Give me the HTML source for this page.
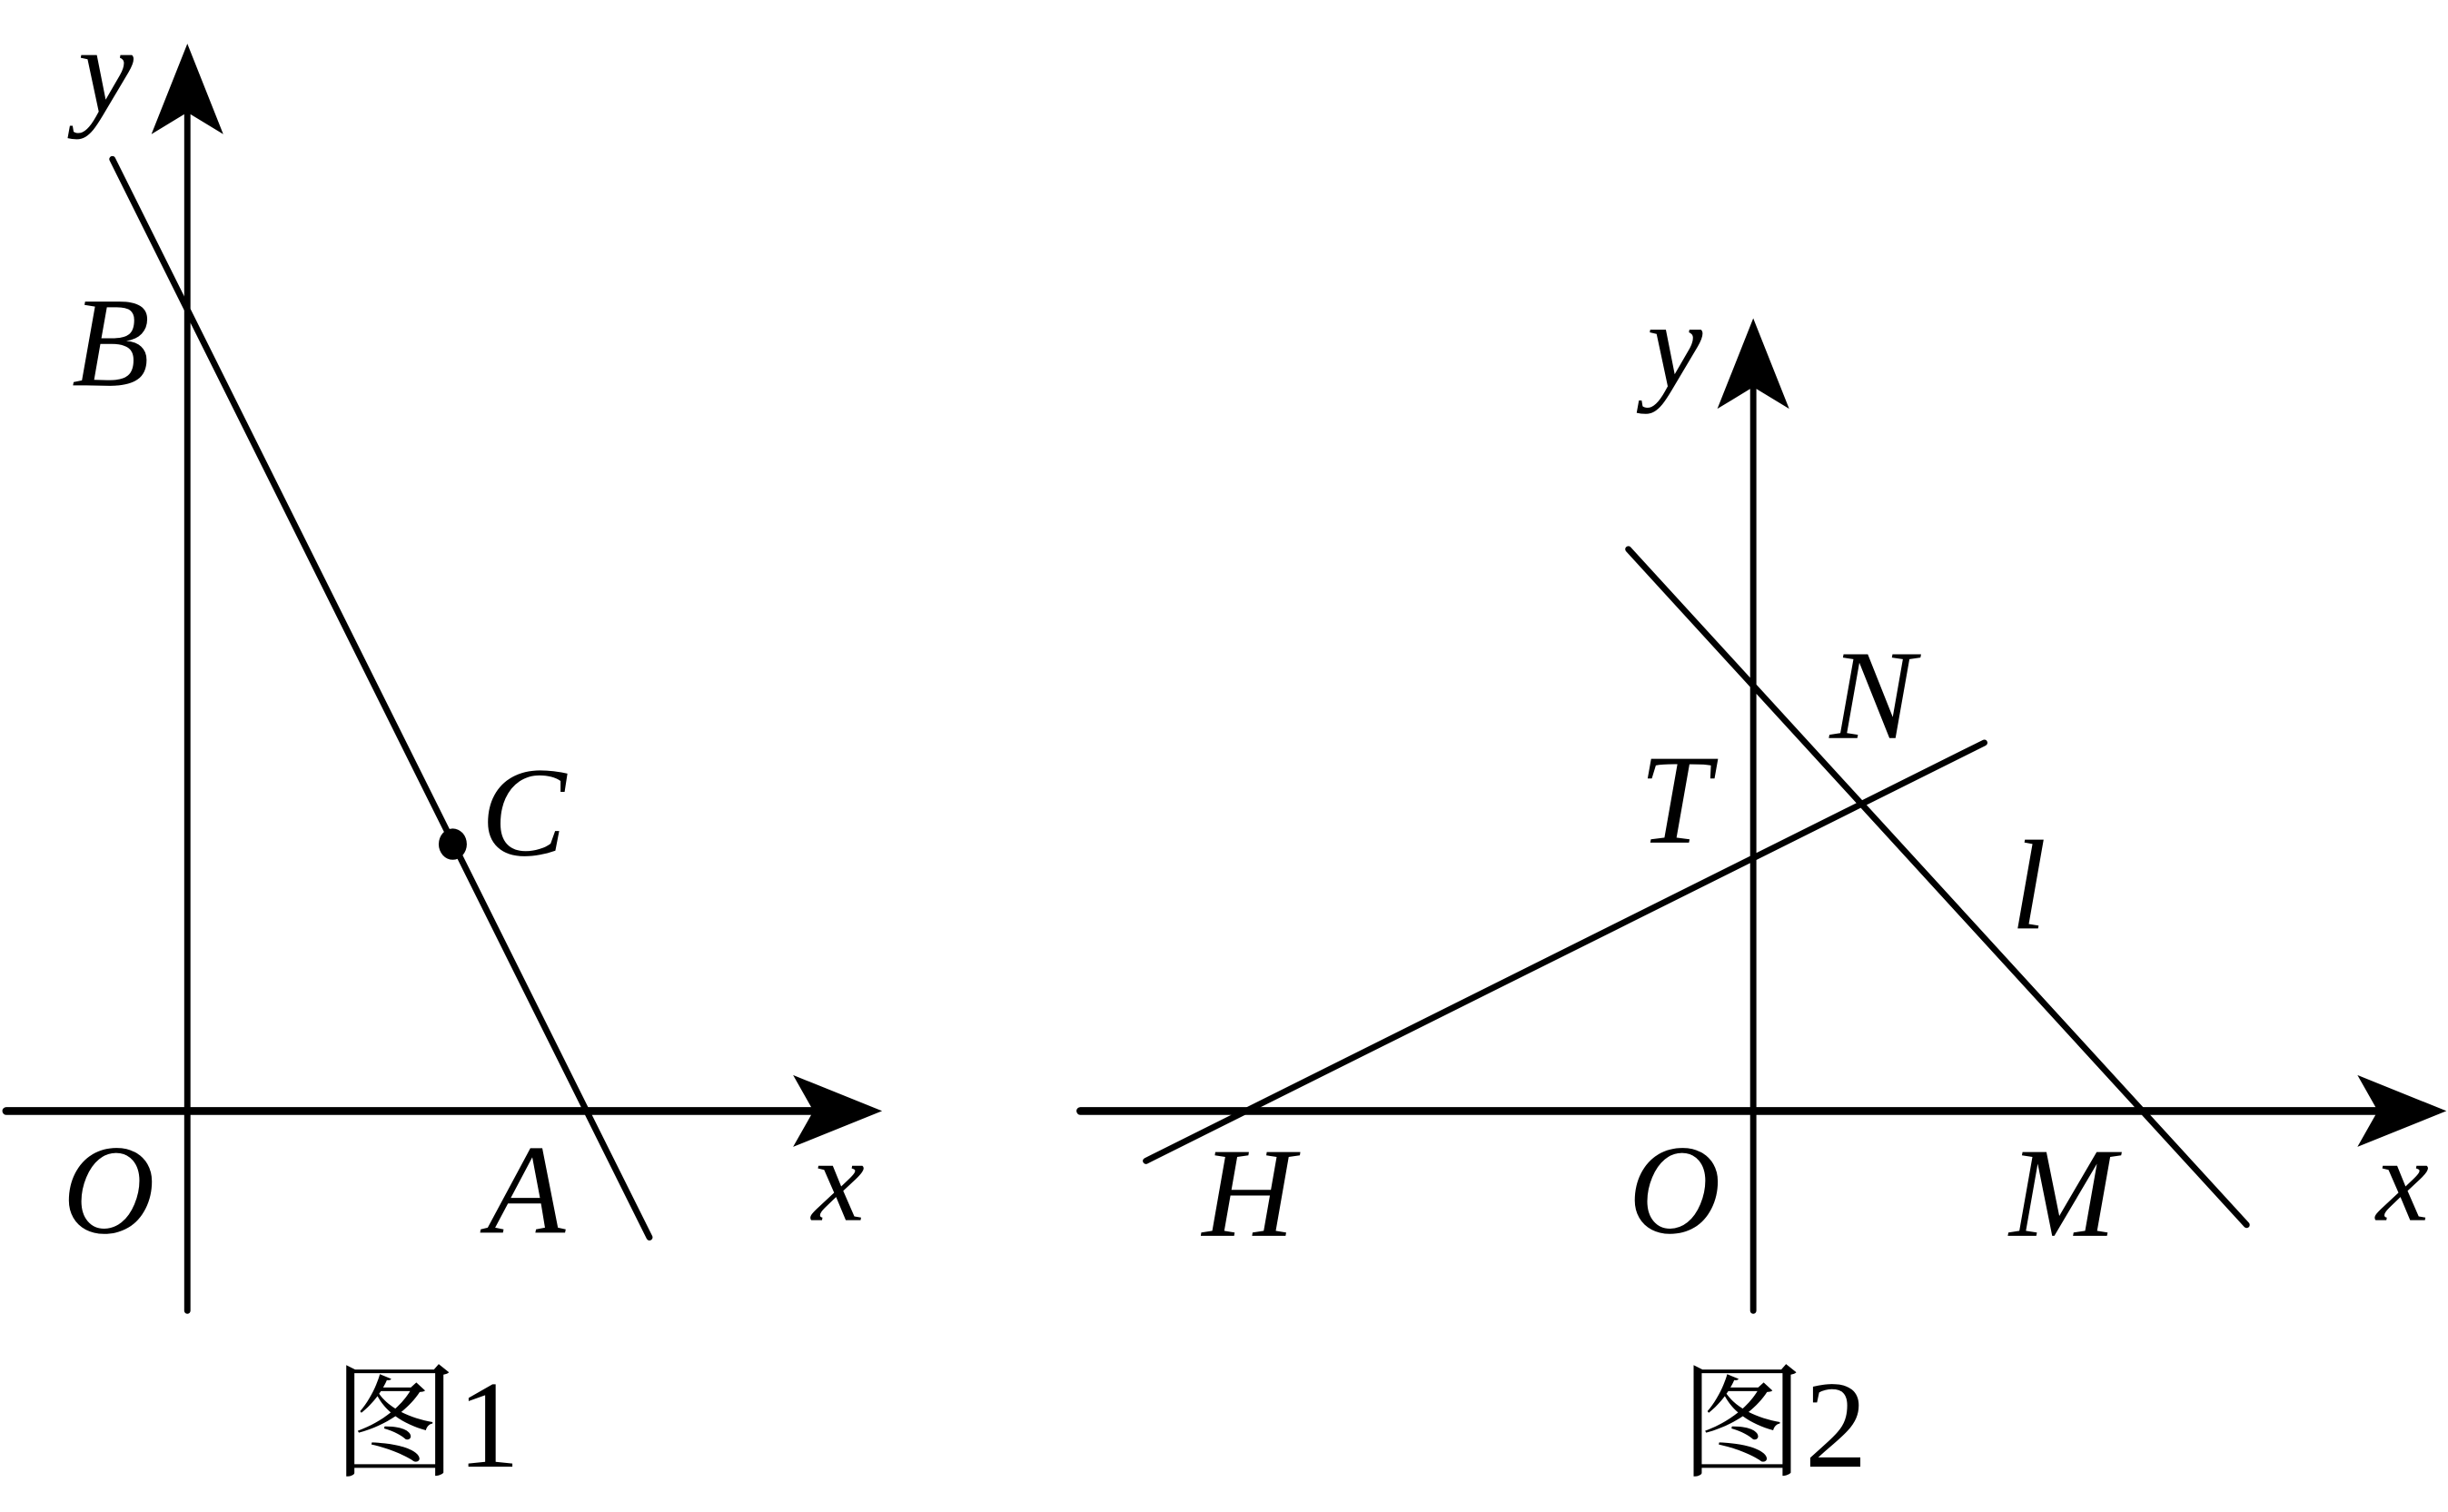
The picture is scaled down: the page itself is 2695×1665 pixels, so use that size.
<!DOCTYPE html>
<html><head><meta charset="utf-8"><style>
html,body{margin:0;padding:0;background:#fff;}
svg{display:block;}
text{font-family:"Liberation Serif","Noto Serif CJK SC",serif;fill:#000;}
.i{font-style:italic;}
</style></head><body>
<svg width="2695" height="1665" viewBox="0 0 1568 969" preserveAspectRatio="none" xmlns="http://www.w3.org/2000/svg">
<g stroke="#000" stroke-linecap="round" fill="none">
<line x1="120" y1="840" x2="120" y2="70" stroke-width="4"/>
<line x1="4" y1="712" x2="525" y2="712" stroke-width="5"/>
<line x1="72" y1="102" x2="416" y2="793" stroke-width="4"/>
<line x1="1123" y1="840" x2="1123" y2="245" stroke-width="4"/>
<line x1="692" y1="712" x2="1525" y2="712" stroke-width="5"/>
<line x1="1043" y1="352" x2="1439" y2="785" stroke-width="4"/>
<line x1="734" y1="744" x2="1271" y2="476" stroke-width="4"/>
</g>
<g fill="#000">
<polygon points="120,28 97,86 120,72 143,86"/>
<polygon points="565,712 508,689 521,712 508,735"/>
<polygon points="1123,204 1100,262 1123,248 1146,262"/>
<polygon points="1567,712 1510,689 1523,712 1510,735"/>
<ellipse cx="290" cy="541" rx="9" ry="10"/>
</g>
<g font-size="82">
<text class="i" x="50" y="72" font-size="80">y</text>
<text class="i" x="46" y="247">B</text>
<text class="i" x="308" y="548">C</text>
<text class="i" x="40" y="790">O</text>
<text class="i" x="312" y="790">A</text>
<text class="i" x="520" y="782" font-size="76">x</text>
<text x="213" y="940" font-size="80">图1</text>
<text class="i" x="1055" y="248" font-size="80">y</text>
<text class="i" x="1172" y="473">N</text>
<text class="i" x="1050" y="540">T</text>
<text class="i" x="1288" y="595">l</text>
<text class="i" x="770" y="792">H</text>
<text class="i" x="1043" y="790">O</text>
<text class="i" x="1287" y="792">M</text>
<text class="i" x="1522" y="782" font-size="76">x</text>
<text x="1076" y="940" font-size="80">图2</text>
</g>
</svg>
</body></html>
